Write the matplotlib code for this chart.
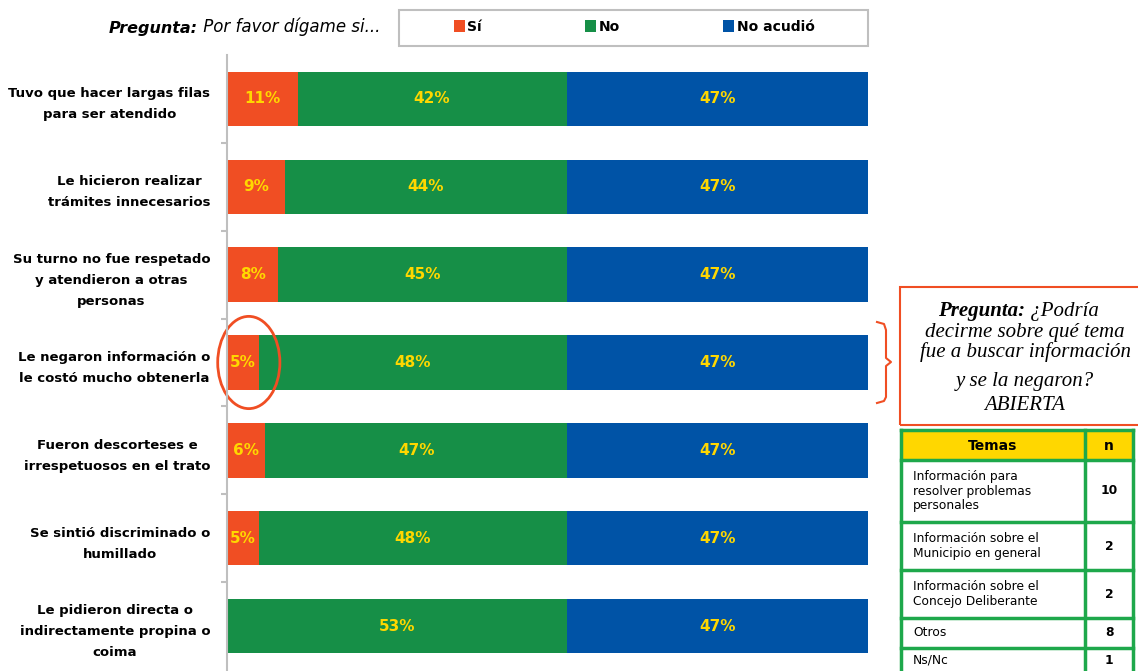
import matplotlib.pyplot as plt
from matplotlib.patches import Rectangle, Ellipse, Patch
from matplotlib.lines import Line2D

# datos
categorias = [
    "Tuvo que hacer largas filas\npara ser atendido",
    "Le hicieron realizar\ntrámites innecesarios",
    "Su turno no fue respetado\ny atendieron a otras\npersonas",
    "Le negaron información o\nle costó mucho obtenerla",
    "Fueron descorteses e\nirrespetuosos en el trato",
    "Se sintió discriminado o\nhumillado",
    "Le pidieron directa o\nindirectamente propina o\ncoima",
]
si = [11, 9, 8, 5, 6, 5, 0]
no = [42, 44, 45, 48, 47, 48, 53]
no_acudio = [47, 47, 47, 47, 47, 47, 47]
series_nombres = ["Sí", "No", "No acudió"]

temas = [
    "Información para\nresolver problemas\npersonales",
    "Información sobre el\nMunicipio en general",
    "Información sobre el\nConcejo Deliberante",
    "Otros",
    "Ns/Nc",
]
temas_n = [10, 2, 2, 8, 1]

colores = ["#F04E23", "#168F47", "#0053A6"]
amarillo = "#FFD700"
gris = "#BFBFBF"

W, H = 1138, 671
fig = plt.figure(figsize=(W / 100, H / 100), dpi=100)


def fx(px):
    return px / W


def fy(py):
    return 1 - py / H


ax = fig.add_axes([fx(227), fy(670), fx(868 - 227), (670 - 55) / H])

y = list(range(len(categorias)))
left = [0] * len(categorias)
for vals, col in zip([si, no, no_acudio], colores):
    bars = ax.barh(y, vals, left=left, height=0.62, color=col)
    for b, v in zip(bars, vals):
        if v > 0:
            ax.text(b.get_x() + b.get_width() / 2, b.get_y() + b.get_height() / 2,
                    "%d%%" % v, ha="center", va="center", color=amarillo,
                    fontsize=11, fontweight="bold")
    left = [l + v for l, v in zip(left, vals)]

ax.set_xlim(0, 100)
ax.set_ylim(6.5, -0.5)
ax.set_yticks(y)
ax.set_yticklabels(categorias, fontsize=9.5, fontweight="bold",
                   multialignment="center", linespacing=1.8)
ax.set_yticks([i + 0.5 for i in range(len(categorias) - 1)], minor=True)
ax.tick_params(axis="y", which="major", length=0, pad=12)
ax.tick_params(axis="y", which="minor", length=4, color=gris, width=1.5)
ax.set_xticks([])
for s in ["top", "right", "bottom"]:
    ax.spines[s].set_visible(False)
ax.spines["left"].set_color(gris)
ax.spines["left"].set_linewidth(1.5)

# circulo alrededor del 5%
ax.add_patch(Ellipse((3.4, 3), 9.7, 1.05, fill=False, edgecolor=colores[0],
                     linewidth=2, clip_on=False))

# leyenda (marco aparte)
fig.add_artist(Rectangle((fx(399), fy(46)), fx(868 - 399), (46 - 10) / H,
                         transform=fig.transFigure, fill=False,
                         edgecolor=gris, linewidth=1.5))
handles = [Patch(facecolor=c, edgecolor="none") for c in colores]
fig.legend(handles, series_nombres, loc="center",
           bbox_to_anchor=(fx(634), fy(27)), ncol=3, frameon=False,
           handlelength=0.8, handleheight=0.9, handletextpad=0.2,
           columnspacing=7.4, borderaxespad=0,
           prop={"weight": "bold", "size": 10})

t1 = fig.text(fx(109), fy(33), "Pregunta:", fontsize=11.5, fontstyle="italic",
              fontweight="bold", va="baseline")
ax.annotate(" Por favor dígame si...", xy=(1, 0), xycoords=t1, va="bottom",
            fontsize=12, fontstyle="italic", annotation_clip=False)

# recuadro pregunta abierta
fig.add_artist(Rectangle((fx(900), fy(425)), fx(1150 - 900), (425 - 287) / H,
                         transform=fig.transFigure, fill=False,
                         edgecolor=colores[0], linewidth=1.5))
bx = [877, 884, 886, 886, 891, 886, 886, 884, 877]
by = [322, 324, 330, 358, 362, 366, 397, 401, 403]
fig.add_artist(Line2D([fx(v) for v in bx], [fy(v) for v in by],
                      transform=fig.transFigure, color=colores[0], linewidth=1.5))

serif = "Liberation Serif"
p1 = fig.text(fx(938), fy(316), "Pregunta:", family=serif, fontsize=15,
              fontstyle="italic", fontweight="bold", va="baseline")
ax.annotate(" ¿Podría", xy=(1, 0), xycoords=p1, va="bottom", family=serif,
            fontsize=15, fontstyle="italic", annotation_clip=False)
lineas = ["decirme sobre qué tema", "fue a buscar información", "y se la negaron?", "ABIERTA"]
for txt, py in zip(lineas, [337, 357, 386, 410]):
    fig.text(fx(1025), fy(py), txt, family=serif, fontsize=15, fontstyle="italic",
             va="baseline", ha="center")

# tabla de temas
verde = "#1EA84B"
x0, x1, x2 = 901, 1085, 1133
filas = [430, 460, 522, 570, 618, 648, 690]
fig.add_artist(Rectangle((fx(x0), fy(filas[1])), fx(x2 - x0), (filas[1] - filas[0]) / H,
                         transform=fig.transFigure, facecolor=amarillo, edgecolor="none"))
for py in filas:
    fig.add_artist(Line2D([fx(x0), fx(x2)], [fy(py), fy(py)], transform=fig.transFigure,
                          color=verde, linewidth=2.5))
for px in [x0, x1, x2]:
    fig.add_artist(Line2D([fx(px), fx(px)], [fy(filas[0]), fy(filas[-1])],
                          transform=fig.transFigure, color=verde, linewidth=2.5))
fig.text(fx((x0 + x1) / 2), fy(446), "Temas", ha="center", va="center",
         fontsize=10, fontweight="bold")
fig.text(fx((x1 + x2) / 2), fy(446), "n", ha="center", va="center",
         fontsize=10, fontweight="bold")
for i, (tema, n) in enumerate(zip(temas, temas_n)):
    top, bot = filas[i + 1], min(filas[i + 2], 671)
    cy = (top + bot) / 2 if i < 4 else 660
    fig.text(fx(913), fy(cy), tema, ha="left", va="center", fontsize=8.8,
             linespacing=1.15)
    fig.text(fx((x1 + x2) / 2), fy(cy), str(n), ha="center", va="center",
             fontsize=8.8, fontweight="bold")

fig.savefig("out.png", dpi=100)
